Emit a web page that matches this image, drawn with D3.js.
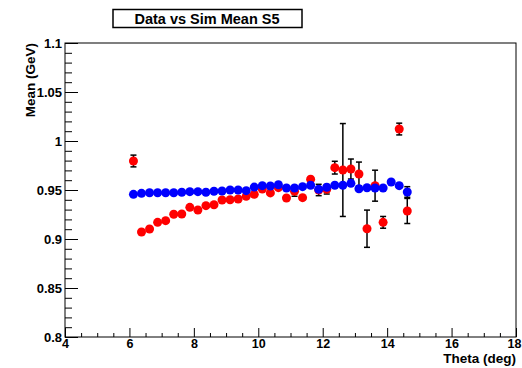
<!DOCTYPE html>
<html>
<head>
<meta charset="utf-8">
<script src="https://cdn.jsdelivr.net/npm/d3@7"></script>
<style>
    body { margin: 0; background: #fff; }
    text { font-family: "Liberation Sans", Arial, sans-serif; font-weight: bold; }
</style>
</head>
<body>
<svg id="chart" width="522" height="368"></svg>
<script>
// theta bin centres (deg)
var theta = [6.125, 6.375, 6.625, 6.875, 7.125, 7.375, 7.625, 7.875, 8.125, 8.375,
             8.625, 8.875, 9.125, 9.375, 9.625, 9.875, 10.125, 10.375, 10.625, 10.875,
             11.125, 11.375, 11.625, 11.875, 12.125, 12.375, 12.625, 12.875, 13.125, 13.375,
             13.625, 13.875, 14.125, 14.375, 14.625];

// red series (null = no point)
var dataMean = [0.9796, 0.9071, 0.9102, 0.9170, 0.9187, 0.9252, 0.9255, 0.9323, 0.9296, 0.9340,
                0.9350, 0.9398, 0.9400, 0.9408, 0.9435, 0.9456, 0.9510, 0.9470, 0.9524, 0.9418,
                0.9486, 0.9422, 0.9610, 0.9500, 0.9507, 0.9728, 0.9704, 0.9714, 0.9663, 0.9105,
                0.9544, 0.9170, null, 1.0122, 0.9286];
var dataErr  = [0.0060, 0.0020, 0.0020, 0.0020, 0.0020, 0.0020, 0.0020, 0.0020, 0.0020, 0.0020,
                0.0020, 0.0020, 0.0020, 0.0020, 0.0020, 0.0020, 0.0020, 0.0020, 0.0020, 0.0020,
                0.0050, 0.0020, 0.0044, 0.0058, 0.0048, 0.0065, 0.0474, 0.0102, 0.0122, 0.0190,
                0.0158, 0.0060, null, 0.0060, 0.0128];

// blue series
var simMean = [0.9456, 0.9466, 0.9472, 0.9472, 0.9472, 0.9472, 0.9477, 0.9483, 0.9483, 0.9477,
               0.9487, 0.9490, 0.9500, 0.9500, 0.9493, 0.9530, 0.9544, 0.9541, 0.9554, 0.9520,
               0.9520, 0.9534, 0.9548, 0.9507, 0.9528, 0.9548, 0.9548, 0.9568, 0.9513, 0.9523,
               0.9520, 0.9520, 0.9582, 0.9544, 0.9480];
var simErr  = [0.0020, 0.0020, 0.0020, 0.0020, 0.0020, 0.0020, 0.0020, 0.0020, 0.0020, 0.0020,
               0.0020, 0.0020, 0.0020, 0.0020, 0.0020, 0.0020, 0.0020, 0.0020, 0.0020, 0.0020,
               0.0020, 0.0020, 0.0020, 0.0020, 0.0020, 0.0020, 0.0020, 0.0020, 0.0020, 0.0020,
               0.0020, 0.0020, 0.0020, 0.0020, 0.0054];

var xTickValues = [4, 6, 8, 10, 12, 14, 16, 18];
var xTickLabels = ['4', '6', '8', '10', '12', '14', '16', '18'];
var yTickValues = [0.8, 0.85, 0.9, 0.95, 1.0, 1.05, 1.1];
var yTickLabels = ['0.8', '0.85', '0.9', '0.95', '1', '1.05', '1.1'];

var titleText = 'Data vs Sim Mean S5';
var xTitle = 'Theta (deg)';
var yTitle = 'Mean (GeV)';

var margin = {top: 43, right: 6, bottom: 31, left: 65},
    width = 522 - margin.left - margin.right,
    height = 368 - margin.top - margin.bottom,
    markerR = 4.5,
    capW = 3;

var svg = d3.select('#chart');
svg.append('rect').attr('width', 522).attr('height', 368).attr('fill', '#fff');

var x = d3.scaleLinear().domain([4, 18]).range([0, width]),
    y = d3.scaleLinear().domain([0.8, 1.1]).range([height, 0]);

var g = svg.append('g')
    .attr('transform', 'translate(' + margin.left + ',' + margin.top + ')');

// minor ticks
var xMinor = d3.range(8, 37).filter(function(v) { return v % 4 !== 0; })
        .map(function(v) { return v / 2; }),
    yMinor = d3.range(80, 111).filter(function(v) { return v % 5 !== 0; })
        .map(function(v) { return v / 100; });

g.append('g')
    .attr('transform', 'translate(0,' + height + ')')
    .call(d3.axisBottom(x).tickValues(xMinor).tickFormat('').tickSize(-4).tickSizeOuter(0))
    .call(function(s) { s.select('.domain').remove(); });
g.append('g')
    .call(d3.axisLeft(y).tickValues(yMinor).tickFormat('').tickSize(-7).tickSizeOuter(0))
    .call(function(s) { s.select('.domain').remove(); });

// major ticks + labels
var xAxis = g.append('g')
    .attr('transform', 'translate(0,' + height + ')')
    .call(d3.axisBottom(x).tickValues(xTickValues)
        .tickFormat(function(d, i) { return xTickLabels[i]; })
        .tickSize(-9).tickSizeOuter(0).tickPadding(2))
    .call(function(s) { s.select('.domain').remove(); });
xAxis.selectAll('text').attr('font-size', 12.5).attr('fill', '#000')
    .attr('font-family', '"Liberation Sans", Arial, sans-serif').attr('font-weight', 'bold');
// last label is pushed in a little so it stays on the canvas
xAxis.selectAll('.tick:last-of-type text').attr('dx', -2);

var yAxis = g.append('g')
    .call(d3.axisLeft(y).tickValues(yTickValues)
        .tickFormat(function(d, i) { return yTickLabels[i]; })
        .tickSize(-13).tickSizeOuter(0).tickPadding(3))
    .call(function(s) { s.select('.domain').remove(); });
yAxis.selectAll('text').attr('font-size', 13).attr('fill', '#000')
    .attr('font-family', '"Liberation Sans", Arial, sans-serif').attr('font-weight', 'bold');

g.selectAll('.tick line').attr('stroke', '#000').attr('stroke-width', 1);

// frame
g.append('rect')
    .attr('width', width).attr('height', height)
    .attr('fill', 'none').attr('stroke', '#000').attr('stroke-width', 1);

// draw one graph: error bars first, then markers
function drawSeries(means, errs, colour) {
    var pts = theta.map(function(t, i) { return {x: t, y: means[i], e: errs[i]}; })
        .filter(function(d) { return d.y !== null; });
    var layer = g.append('g');

    var withBars = pts.filter(function(d) { return y(d.y - d.e) - y(d.y) > markerR; });
    var bars = layer.selectAll('.bar').data(withBars).enter().append('g')
        .attr('class', 'bar')
        .attr('stroke', '#000').attr('stroke-width', 1.5);
    bars.append('line')
        .attr('x1', function(d) { return x(d.x); }).attr('x2', function(d) { return x(d.x); })
        .attr('y1', function(d) { return y(d.y + d.e); }).attr('y2', function(d) { return y(d.y - d.e); });
    bars.append('line')
        .attr('x1', function(d) { return x(d.x) - capW; }).attr('x2', function(d) { return x(d.x) + capW; })
        .attr('y1', function(d) { return y(d.y + d.e); }).attr('y2', function(d) { return y(d.y + d.e); });
    bars.append('line')
        .attr('x1', function(d) { return x(d.x) - capW; }).attr('x2', function(d) { return x(d.x) + capW; })
        .attr('y1', function(d) { return y(d.y - d.e); }).attr('y2', function(d) { return y(d.y - d.e); });

    layer.selectAll('circle').data(pts).enter().append('circle')
        .attr('cx', function(d) { return x(d.x); })
        .attr('cy', function(d) { return y(d.y); })
        .attr('r', markerR)
        .attr('fill', colour);
}

drawSeries(dataMean, dataErr, '#ff0000');
drawSeries(simMean, simErr, '#0000ff');

// axis titles
svg.append('text')
    .attr('x', margin.left + width).attr('y', 363)
    .attr('text-anchor', 'end').attr('font-size', 13.5)
    .text(xTitle);
svg.append('text')
    .attr('transform', 'translate(35,' + margin.top + ') rotate(-90)')
    .attr('text-anchor', 'end').attr('font-size', 13.5)
    .text(yTitle);

// title box
svg.append('rect')
    .attr('x', 113).attr('y', 9.5).attr('width', 189).attr('height', 18)
    .attr('fill', '#fff').attr('stroke', '#000').attr('stroke-width', 1.5);
svg.append('text')
    .attr('x', 207).attr('y', 24)
    .attr('text-anchor', 'middle').attr('font-size', 14.5)
    .text(titleText);
</script>
</body>
</html>
